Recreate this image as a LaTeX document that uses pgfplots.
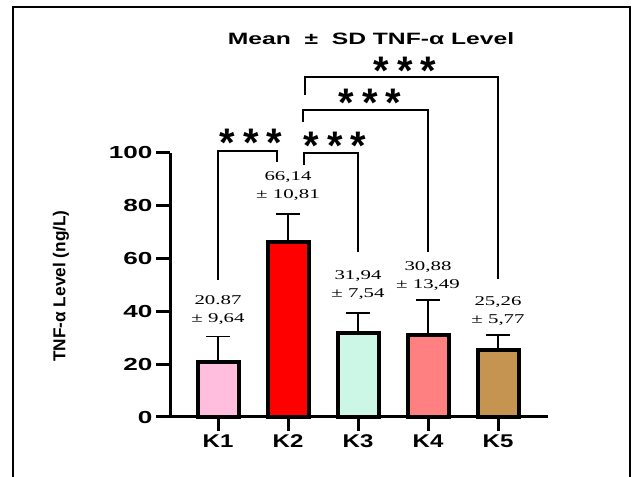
\documentclass[border=0pt]{standalone}
\usepackage{fontspec}
\setmainfont{Liberation Sans}
\newfontfamily\hsans{Liberation Sans}[FakeStretch=1.5]
\newfontfamily\ksans{Liberation Sans}[FakeStretch=1.3]
\newfontfamily\hserif{Liberation Serif}[FakeStretch=1.55]
\usepackage{pgfplots}
\pgfplotsset{compat=1.18}
\definecolor{cK1}{RGB}{255,190,222}
\definecolor{cK2}{RGB}{255,0,0}
\definecolor{cK3}{RGB}{204,247,230}
\definecolor{cK4}{RGB}{255,128,128}
\definecolor{cK5}{RGB}{196,148,80}
\begin{document}
\begin{tikzpicture}
\useasboundingbox (0,0) rectangle (634bp,477bp);
\draw[line width=2.2bp] (13bp,-5bp) -- (13bp,470bp) -- (630bp,470bp) -- (630bp,-5bp);
\begin{axis}[
  at={(170bp,60bp)}, anchor=south west,
  x=70bp, y=2.64bp,
  xmin=0.314, xmax=5.714, ymin=0, ymax=100,
  axis lines*=left,
  axis line style={line width=3bp, black},
  tick style={line width=3bp, black},
  major tick length=14bp,
  tick align=outside,
  xtick={1,2,3,4,5},
  xticklabels={K1,K2,K3,K4,K5},
  ytick={0,20,40,60,80,100},
  /pgf/number format/assume math mode=true,
  yticklabel style={font=\hsans\bfseries\fontsize{17.5}{18}\selectfont},
  xticklabel style={font=\ksans\bfseries\fontsize{18.5}{19}\selectfont},
  clip=false,
]
\addplot[ybar, bar width=41bp, bar shift=0pt, fill=cK1, draw=black, line width=4bp,
  error bars/.cd, y dir=plus, y explicit,
  error bar style={line width=1.8bp,black},
  error mark options={rotate=90,mark size=12bp,line width=1.8bp,black}]
  coordinates {(1,20.87) +- (0,9.64)};
\addplot[ybar, bar width=41bp, bar shift=0pt, fill=cK2, draw=black, line width=4bp,
  error bars/.cd, y dir=plus, y explicit,
  error bar style={line width=1.8bp,black},
  error mark options={rotate=90,mark size=12bp,line width=1.8bp,black}]
  coordinates {(2,66.14) +- (0,10.81)};
\addplot[ybar, bar width=41bp, bar shift=0pt, fill=cK3, draw=black, line width=4bp,
  error bars/.cd, y dir=plus, y explicit,
  error bar style={line width=1.8bp,black},
  error mark options={rotate=90,mark size=12bp,line width=1.8bp,black}]
  coordinates {(3,31.94) +- (0,7.54)};
\addplot[ybar, bar width=41bp, bar shift=0pt, fill=cK4, draw=black, line width=4bp,
  error bars/.cd, y dir=plus, y explicit,
  error bar style={line width=1.8bp,black},
  error mark options={rotate=90,mark size=12bp,line width=1.8bp,black}]
  coordinates {(4,30.88) +- (0,13.49)};
\addplot[ybar, bar width=41bp, bar shift=0pt, fill=cK5, draw=black, line width=4bp,
  error bars/.cd, y dir=plus, y explicit,
  error bar style={line width=1.8bp,black},
  error mark options={rotate=90,mark size=12bp,line width=1.8bp,black}]
  coordinates {(5,25.26) +- (0,5.77)};
% value labels
\node[font=\hserif\fontsize{13.5}{18}\selectfont, align=center] at (axis cs:1,40.5) {20.87\\± 9,64};
\node[font=\hserif\fontsize{13.5}{18}\selectfont, align=center] at (axis cs:2,87.5) {66,14\\± 10,81};
\node[font=\hserif\fontsize{13.5}{18}\selectfont, align=center] at (axis cs:3,50.0) {31,94\\± 7,54};
\node[font=\hserif\fontsize{13.5}{18}\selectfont, align=center] at (axis cs:4,53.4) {30,88\\± 13,49};
\node[font=\hserif\fontsize{13.5}{18}\selectfont, align=center] at (axis cs:5,40.0) {25,26\\± 5,77};
% brackets
\draw[line width=2.7bp] (axis cs:1,51.9) -- (axis cs:1,100.8) -- (axis cs:1.843,100.8) -- (axis cs:1.843,96.6);
\draw[line width=2.7bp] (axis cs:2.229,95.5) -- (axis cs:2.229,100) -- (axis cs:3,100) -- (axis cs:3,62.5);
\draw[line width=2.7bp] (axis cs:2.214,111.7) -- (axis cs:2.214,116.3) -- (axis cs:4,116.3) -- (axis cs:4,62.5);
\draw[line width=2.7bp] (axis cs:2.243,122.0) -- (axis cs:2.243,128.8) -- (axis cs:5,128.8) -- (axis cs:5,52.3);
% stars
\node[anchor=base, inner sep=0pt, yshift=-23bp, font=\bfseries\fontsize{40}{40}\selectfont] at (axis cs:1.471,107.2) {*\hspace{8bp}*\hspace{8bp}*};
\node[anchor=base, inner sep=0pt, yshift=-23bp, font=\bfseries\fontsize{40}{40}\selectfont] at (axis cs:2.671,106.1) {*\hspace{8bp}*\hspace{8bp}*};
\node[anchor=base, inner sep=0pt, yshift=-23bp, font=\bfseries\fontsize{40}{40}\selectfont] at (axis cs:3.171,122.7) {*\hspace{8bp}*\hspace{8bp}*};
\node[anchor=base, inner sep=0pt, yshift=-23bp, font=\bfseries\fontsize{40}{40}\selectfont] at (axis cs:3.671,134.5) {*\hspace{8bp}*\hspace{8bp}*};
\end{axis}
\node[rotate=90, font=\bfseries\fontsize{17.3}{18}\selectfont] at (61bp,191bp) {TNF-α Level (ng/L)};
\node[anchor=base, font=\hsans\bfseries\fontsize{16.5}{18}\selectfont] at (371bp,432bp) {Mean\ \ ±\ \ SD TNF-α Level};
\end{tikzpicture}
\end{document}
